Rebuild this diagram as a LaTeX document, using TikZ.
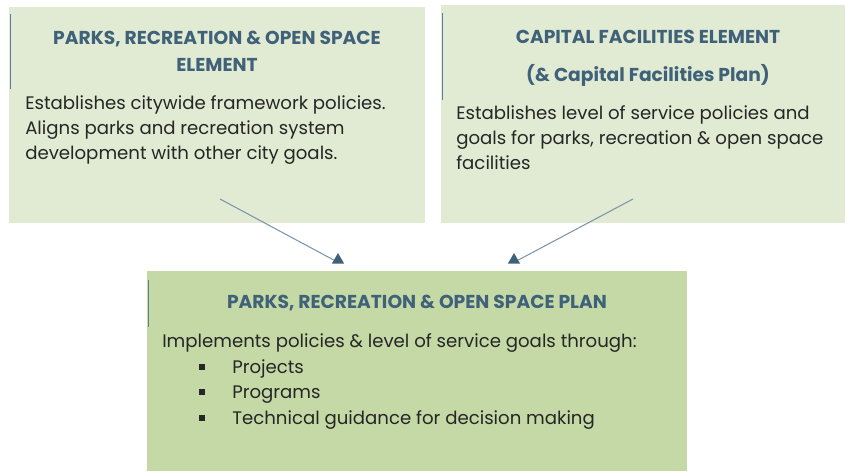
\documentclass[tikz,border=0pt]{standalone}
\usepackage{fontspec}
\setmainfont{Poppins}
\usetikzlibrary{arrows.meta,shapes.geometric}
\definecolor{boxlight}{HTML}{E1EAD2}
\definecolor{boxdark}{HTML}{C4D9A5}
\definecolor{titleblue}{HTML}{3F6179}
\definecolor{bodytext}{HTML}{262626}
\definecolor{accent}{HTML}{5F7F97}
\definecolor{connector}{HTML}{7D96AA}
\definecolor{headfill}{HTML}{3F6079}
\tikzset{
  panel/.style={draw=none, inner sep=0pt},
  titletext/.style={anchor=base, inner sep=0pt, text=titleblue, font=\fontsize{14}{16}\selectfont\bfseries},
  bodypara/.style={anchor=base west, inner sep=0pt, text=bodytext, align=left, font=\fontsize{13.6}{18.4}\selectfont},
  accentline/.style={draw=accent, line width=0.7pt},
  link/.style={draw=connector, line width=0.8pt},
  headtri/.style={regular polygon, regular polygon sides=3, fill=headfill, draw=none, inner sep=0pt, minimum size=10.5pt},
  bulletmark/.style={fill=bodytext, draw=none, inner sep=0pt, minimum size=5pt}
}
\begin{document}
\begin{tikzpicture}[x=0.75pt,y=-0.75pt]
\useasboundingbox (0,0) rectangle (845,471);
% panels
\node[panel, fill=boxlight, minimum width=312pt, minimum height=162pt] (p1) at (217,115) {};
\node[panel, fill=boxlight, minimum width=303pt, minimum height=163.5pt] (p2) at (643,114) {};
\node[panel, fill=boxdark, minimum width=405pt, minimum height=150pt] (p3) at (417,371) {};
% accent lines
\coordinate (a1t) at (10,14); \coordinate (a1b) at (10,89);
\coordinate (a2t) at (442,13); \coordinate (a2b) at (442,100);
\coordinate (a3t) at (148,280); \coordinate (a3b) at (148,327);
\draw[accentline] (a1t) -- (a1b);
\draw[accentline] (a2t) -- (a2b);
\draw[accentline] (a3t) -- (a3b);
% titles
\node[titletext] (t1a) at (217,44) {PARKS, RECREATION \& OPEN SPACE};
\node[titletext] (t1b) at (217,71) {ELEMENT};
\node[titletext] (t2a) at (648,43) {CAPITAL FACILITIES ELEMENT};
\node[titletext] (t2b) at (648,81) {(\& Capital Facilities Plan)};
\node[titletext] (t3) at (417,308) {PARKS, RECREATION \& OPEN SPACE PLAN};
% body text (base anchor = last line)
\node[bodypara] (b1) at (25,159) {Establishes citywide framework policies.\\Aligns parks and recreation system\\development with other city goals.};
\node[bodypara] (b2) at (456,169) {Establishes level of service policies and\\goals for parks, recreation \& open space\\facilities};
\node[bodypara] (b3) at (162,347) {Implements policies \& level of service goals through:};
\node[bodypara] (l1) at (232,373) {Projects};
\node[bodypara] (l2) at (232,398) {Programs};
\node[bodypara] (l3) at (232,424) {Technical guidance for decision making};
\node[bulletmark] (m1) at (202,367) {};
\node[bulletmark] (m2) at (202,392) {};
\node[bulletmark] (m3) at (202,418) {};
% connectors
\coordinate (s1) at (220,199);
\coordinate (s2) at (633,199);
\node[headtri] (h1) at (338,260) {};
\node[headtri] (h2) at (514,260) {};
\draw[link] (s1) -- (h1.west);
\draw[link] (s2) -- (h2.east);
\end{tikzpicture}
\end{document}
